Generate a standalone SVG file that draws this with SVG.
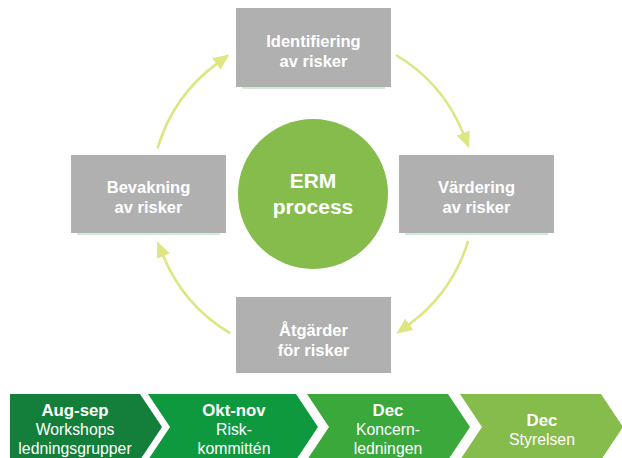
<svg xmlns="http://www.w3.org/2000/svg" width="622" height="458" viewBox="0 0 622 458">
<defs>
<style>
.box{fill:#b0b0b0}
.uline{stroke:#bfe6c8;stroke-width:1.5}
.bt{font-family:"Liberation Sans",Arial,sans-serif;font-weight:bold;font-size:16.5px;fill:#ffffff;text-anchor:middle}
.ct{font-family:"Liberation Sans",Arial,sans-serif;font-weight:bold;font-size:21px;fill:#ffffff;text-anchor:middle}
.arc{fill:none;stroke:#dde682;stroke-width:2.6}
.chb{font-family:"Liberation Sans",Arial,sans-serif;font-weight:bold;font-size:16.8px;fill:#ffffff;text-anchor:middle}
.chr{font-family:"Liberation Sans",Arial,sans-serif;font-size:15.8px;fill:#ffffff;text-anchor:middle}
</style>
<marker id="ah" viewBox="0 0 16 14" markerWidth="16" markerHeight="14" refX="0.5" refY="7" orient="auto" markerUnits="userSpaceOnUse">
<path d="M0,0 L16,7 L0,14 z" fill="#dde682"/>
</marker>
</defs>
<rect width="622" height="458" fill="#ffffff"/>
<g id="connectors">
<path class="arc" d="M396 55 A162 162 0 0 1 463.3 133.6" marker-end="url(#ah)"/>
<path class="arc" d="M468.1 240.8 A162 162 0 0 1 408.9 324.6" marker-end="url(#ah)"/>
<path class="arc" d="M230.3 333.3 A162 162 0 0 1 163.2 255.7" marker-end="url(#ah)"/>
<path class="arc" d="M157.5 148.5 A162 162 0 0 1 216.9 63.6" marker-end="url(#ah)"/>
</g>
<g id="node-identifiering">
<rect class="box" x="236" y="8" width="155" height="79"/>
<line class="uline" x1="242" y1="88" x2="385" y2="88"/>
<text class="bt" x="313.5" y="47">Identifiering</text>
<text class="bt" x="313.5" y="67">av risker</text>
</g>
<g id="node-vardering">
<rect class="box" x="399" y="155" width="155" height="78"/>
<line class="uline" x1="405" y1="234" x2="548" y2="234"/>
<text class="bt" x="476.5" y="193">Värdering</text>
<text class="bt" x="476.5" y="213">av risker</text>
</g>
<g id="node-atgarder">
<rect class="box" x="236" y="297" width="155" height="76"/>
<text class="bt" x="313.5" y="336">Åtgärder</text>
<text class="bt" x="313.5" y="356">för risker</text>
</g>
<g id="node-bevakning">
<rect class="box" x="71" y="155" width="155" height="78"/>
<line class="uline" x1="77" y1="234" x2="220" y2="234"/>
<text class="bt" x="148.5" y="193">Bevakning</text>
<text class="bt" x="148.5" y="213">av risker</text>
</g>
<g id="node-erm">
<circle cx="313" cy="194" r="75" fill="#86bc4b"/>
<text class="ct" x="313" y="188">ERM</text>
<text class="ct" x="313" y="214">process</text>
</g>
<g id="node-augsep">
<polygon points="10,394 140,394 162,427 140,460 10,460" fill="#137f3a"/>
<text class="chb" x="75" y="416">Aug-sep</text>
<text class="chr" x="75" y="435">Workshops</text>
<text class="chr" x="75" y="454">ledningsgrupper</text>
</g>
<g id="node-oktnov">
<polygon points="148,394 296,394 318,427 296,460 148,460 170,427" fill="#0f993f"/>
<text class="chb" x="234" y="416">Okt-nov</text>
<text class="chr" x="234" y="435">Risk-</text>
<text class="chr" x="234" y="454">kommittén</text>
</g>
<g id="node-dec-koncern">
<polygon points="307,394 448,394 470,427 448,460 307,460 329,427" fill="#3aa83a"/>
<text class="chb" x="388" y="416">Dec</text>
<text class="chr" x="388" y="435">Koncern-</text>
<text class="chr" x="388" y="454">ledningen</text>
</g>
<g id="node-dec-styrelsen">
<polygon points="460,394 601,394 623,427 601,460 460,460 482,427" fill="#86bc4b"/>
<text class="chb" x="542" y="426">Dec</text>
<text class="chr" x="542" y="445">Styrelsen</text>
</g>
</svg>
